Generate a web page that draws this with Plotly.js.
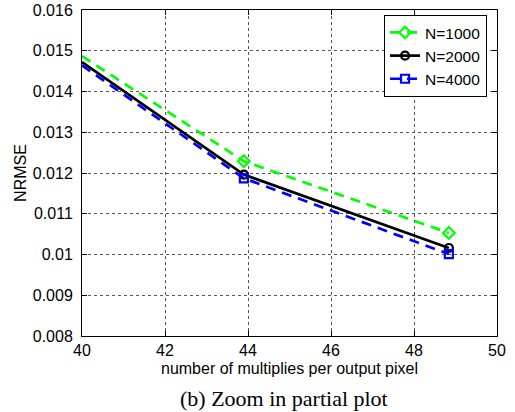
<!DOCTYPE html>
<html>
<head>
<meta charset="utf-8">
<script src="https://cdn.plot.ly/plotly-3.0.1.min.js"></script>
<style>html,body{margin:0;padding:0;background:#fff;}#chart{width:515px;height:412px;}</style>
</head>
<body>
<div id="chart"></div>
<script>
// Data
const xStart = 40;            // left edge where lines enter the view
const xPoints = [43.9, 48.84]; // multiplies per output pixel (marker positions)
const seriesNames = ['N=1000', 'N=2000', 'N=4000'];
const startN1000 = 0.01487, startN2000 = 0.01472, startN4000 = 0.01464;
const n1000 = [0.01229, 0.01053];
const n2000 = [0.01196, 0.01016];
const n4000 = [0.01187, 0.01001];
const xTicks = [40, 42, 44, 46, 48, 50];
const yTicks = [0.008, 0.009, 0.010, 0.011, 0.012, 0.013, 0.014, 0.015, 0.016];
const yTickText = ['0.008', '0.009', '0.01', '0.011', '0.012', '0.013', '0.014', '0.015', '0.016'];

const styles = [
  {color: '#00ff00', dash: '10px,7px', symbol: 'diamond-open', size: 9},
  {color: '#000000', dash: 'solid', symbol: 'circle-open', size: 8},
  {color: '#0000ff', dash: '10px,7px', symbol: 'square-open', size: 8}
];
const starts = [startN1000, startN2000, startN4000];
const vals = [n1000, n2000, n4000];

const traces = [];
for (let i = 0; i < 3; i++) {
  const s = styles[i];
  traces.push({
    x: [xStart].concat(xPoints), y: [starts[i]].concat(vals[i]),
    mode: 'lines', line: {color: s.color, width: 2.7, dash: s.dash},
    showlegend: false, hoverinfo: 'skip'
  });
}
for (let i = 0; i < 3; i++) {
  const s = styles[i];
  traces.push({
    x: [xPoints[0], null, xPoints[1]], y: [vals[i][0], null, vals[i][1]],
    mode: 'lines+markers', connectgaps: false, name: seriesNames[i],
    line: {color: s.color, width: 2.7, dash: s.dash},
    marker: {symbol: s.symbol, size: s.size, color: s.color, line: {color: s.color, width: 2.2}},
    cliponaxis: false
  });
}

const fontFam = '"Liberation Sans", Arial, Helvetica, sans-serif';
const layout = {
  width: 515, height: 412,
  margin: {l: 82, r: 18, t: 10, b: 76},
  paper_bgcolor: '#ffffff', plot_bgcolor: '#ffffff',
  font: {family: fontFam, size: 16, color: '#000'},
  showlegend: true,
  legend: {
    x: 0.976, y: 0.985, xanchor: 'right', yanchor: 'top',
    bgcolor: '#ffffff', bordercolor: '#000000', borderwidth: 1,
    font: {family: fontFam, size: 15.5, color: '#000'},
    tracegroupgap: 0, itemwidth: 30
  },
  xaxis: {
    range: [40, 50], tickvals: xTicks, ticktext: xTicks.map(String),
    showline: true, linecolor: '#000', linewidth: 1, mirror: 'ticks',
    ticks: 'inside', ticklen: 5, tickcolor: '#000',
    showgrid: true, gridcolor: '#555', griddash: 'dot', gridwidth: 1,
    zeroline: false, ticklabelstandoff: 0,
    tickfont: {family: fontFam, size: 16, color: '#000'},
    title: {text: 'number of multiplies per output pixel', font: {family: fontFam, size: 16, color: '#000'}, standoff: 4}
  },
  yaxis: {
    range: [0.008, 0.016], tickvals: yTicks, ticktext: yTickText,
    showline: true, linecolor: '#000', linewidth: 1, mirror: 'ticks',
    ticks: 'inside', ticklen: 5, tickcolor: '#000',
    showgrid: true, gridcolor: '#555', griddash: 'dot', gridwidth: 1,
    zeroline: false, ticklabelstandoff: 5,
    tickfont: {family: fontFam, size: 16, color: '#000'},
    title: {text: 'NRMSE', font: {family: fontFam, size: 16, color: '#000'}, standoff: 2}
  },
  annotations: [{
    text: '(b) Zoom in partial plot', xref: 'paper', yref: 'paper',
    x: 0.487, y: 0, xanchor: 'center', yanchor: 'middle', yshift: -62,
    showarrow: false, font: {family: '"Liberation Serif", "Times New Roman", serif', size: 22, color: '#000'}
  }]
};

Plotly.newPlot('chart', traces, layout, {displayModeBar: false, staticPlot: true});
</script>
</body>
</html>
